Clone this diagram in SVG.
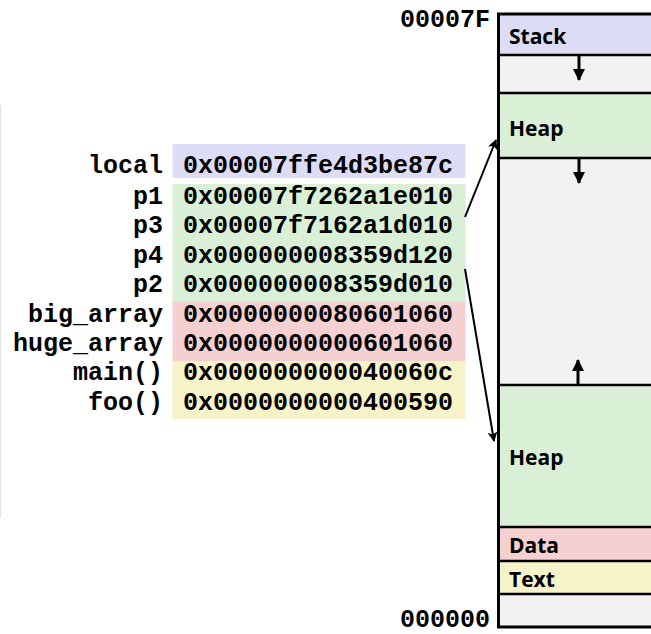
<svg xmlns="http://www.w3.org/2000/svg" width="651" height="634" viewBox="0 0 651 634">
<style>
.mono{font-family:"Liberation Mono","Courier New",monospace;font-weight:bold;font-size:25px;fill:#000}
.lbl{text-anchor:end}
.seg{font-family:"Open Sans","Noto Sans",sans-serif;font-weight:bold;font-size:21px;fill:#000}
.sep{stroke:#000;stroke-width:2.5}
.conn{stroke:#000;stroke-width:2;fill:none}
.blk{stroke:#000;stroke-width:3;fill:none}
</style>
<defs>
<marker id="ah" markerWidth="10" markerHeight="10" refX="9" refY="5" orient="auto" markerUnits="userSpaceOnUse">
<path d="M0,0 L10,5 L0,10 L2.5,5 Z" fill="#000"/>
</marker>
<marker id="bh" markerWidth="12" markerHeight="12" refX="11" refY="6" orient="auto" markerUnits="userSpaceOnUse">
<path d="M0,0 L12,6 L0,12 Z" fill="#000"/>
</marker>
</defs>
<rect width="651" height="634" fill="#fff"/>
<line x1="0.5" y1="105" x2="0.5" y2="518" stroke="#e2e2e2" stroke-width="1"/>

<g id="memory">
<rect x="498.5" y="14" width="160" height="41" fill="#dcdcf4"/>
<rect x="498.5" y="55" width="160" height="38" fill="#f2f2f2"/>
<rect x="498.5" y="93" width="160" height="65" fill="#d9f0d7"/>
<rect x="498.5" y="158" width="160" height="227" fill="#f2f2f2"/>
<rect x="498.5" y="385" width="160" height="142" fill="#d9f0d7"/>
<rect x="498.5" y="527" width="160" height="34" fill="#f4d0d0"/>
<rect x="498.5" y="561" width="160" height="33" fill="#f7f3c8"/>
<rect x="498.5" y="594" width="160" height="33" fill="#f2f2f2"/>
<line class="sep" x1="498.5" y1="55" x2="660" y2="55"/>
<line class="sep" x1="498.5" y1="93" x2="660" y2="93"/>
<line class="sep" x1="498.5" y1="158" x2="660" y2="158"/>
<line class="sep" x1="498.5" y1="385" x2="660" y2="385"/>
<line class="sep" x1="498.5" y1="527" x2="660" y2="527"/>
<line class="sep" x1="498.5" y1="561" x2="660" y2="561"/>
<line class="sep" x1="498.5" y1="594" x2="660" y2="594"/>
<polyline class="blk" points="660,14 498.5,14 498.5,627 660,627"/>
<text class="seg" x="509" y="44">Stack</text>
<text class="seg" x="509" y="136">Heap</text>
<text class="seg" x="509" y="465">Heap</text>
<text class="seg" x="509" y="553">Data</text>
<text class="seg" x="509" y="587">Text</text>
<line x1="579" y1="56" x2="579" y2="80" stroke="#000" stroke-width="3" marker-end="url(#bh)"/>
<line x1="579" y1="159" x2="579" y2="183" stroke="#000" stroke-width="3" marker-end="url(#bh)"/>
<line x1="578" y1="384" x2="578" y2="360" stroke="#000" stroke-width="3" marker-end="url(#bh)"/>
</g>

<g id="addr-labels">
<text class="mono" x="490" y="27" text-anchor="end">00007F</text>
<text class="mono" x="490" y="626.5" text-anchor="end">000000</text>
</g>

<g id="table">
<rect x="172.5" y="144" width="293" height="34" fill="#dcdcf4"/>
<rect x="172.5" y="184" width="293" height="118" fill="#d9f0d7"/>
<rect x="172.5" y="302" width="293" height="59" fill="#f4d0d0"/>
<rect x="172.5" y="361" width="293" height="58" fill="#f7f3c8"/>
<g id="row-local"><text class="mono lbl" x="163" y="173.3">local</text><text class="mono" x="183" y="173.3">0x00007ffe4d3be87c</text></g>
<g id="row-p1"><text class="mono lbl" x="163" y="204">p1</text><text class="mono" x="183" y="204">0x00007f7262a1e010</text></g>
<g id="row-p3"><text class="mono lbl" x="163" y="233.4">p3</text><text class="mono" x="183" y="233.4">0x00007f7162a1d010</text></g>
<g id="row-p4"><text class="mono lbl" x="163" y="262.8">p4</text><text class="mono" x="183" y="262.8">0x000000008359d120</text></g>
<g id="row-p2"><text class="mono lbl" x="163" y="292.2">p2</text><text class="mono" x="183" y="292.2">0x000000008359d010</text></g>
<g id="row-big"><text class="mono lbl" x="163" y="321.6">big_array</text><text class="mono" x="183" y="321.6">0x0000000080601060</text></g>
<g id="row-huge"><text class="mono lbl" x="163" y="351">huge_array</text><text class="mono" x="183" y="351">0x0000000000601060</text></g>
<g id="row-main"><text class="mono lbl" x="163" y="380.4">main()</text><text class="mono" x="183" y="380.4">0x000000000040060c</text></g>
<g id="row-foo"><text class="mono lbl" x="163" y="409.8">foo()</text><text class="mono" x="183" y="409.8">0x0000000000400590</text></g>
</g>

<g id="connectors">
<line class="conn" x1="465" y1="217" x2="496" y2="140" marker-end="url(#ah)"/>
<line class="conn" x1="465" y1="269" x2="494" y2="441" marker-end="url(#ah)"/>
</g>
</svg>
